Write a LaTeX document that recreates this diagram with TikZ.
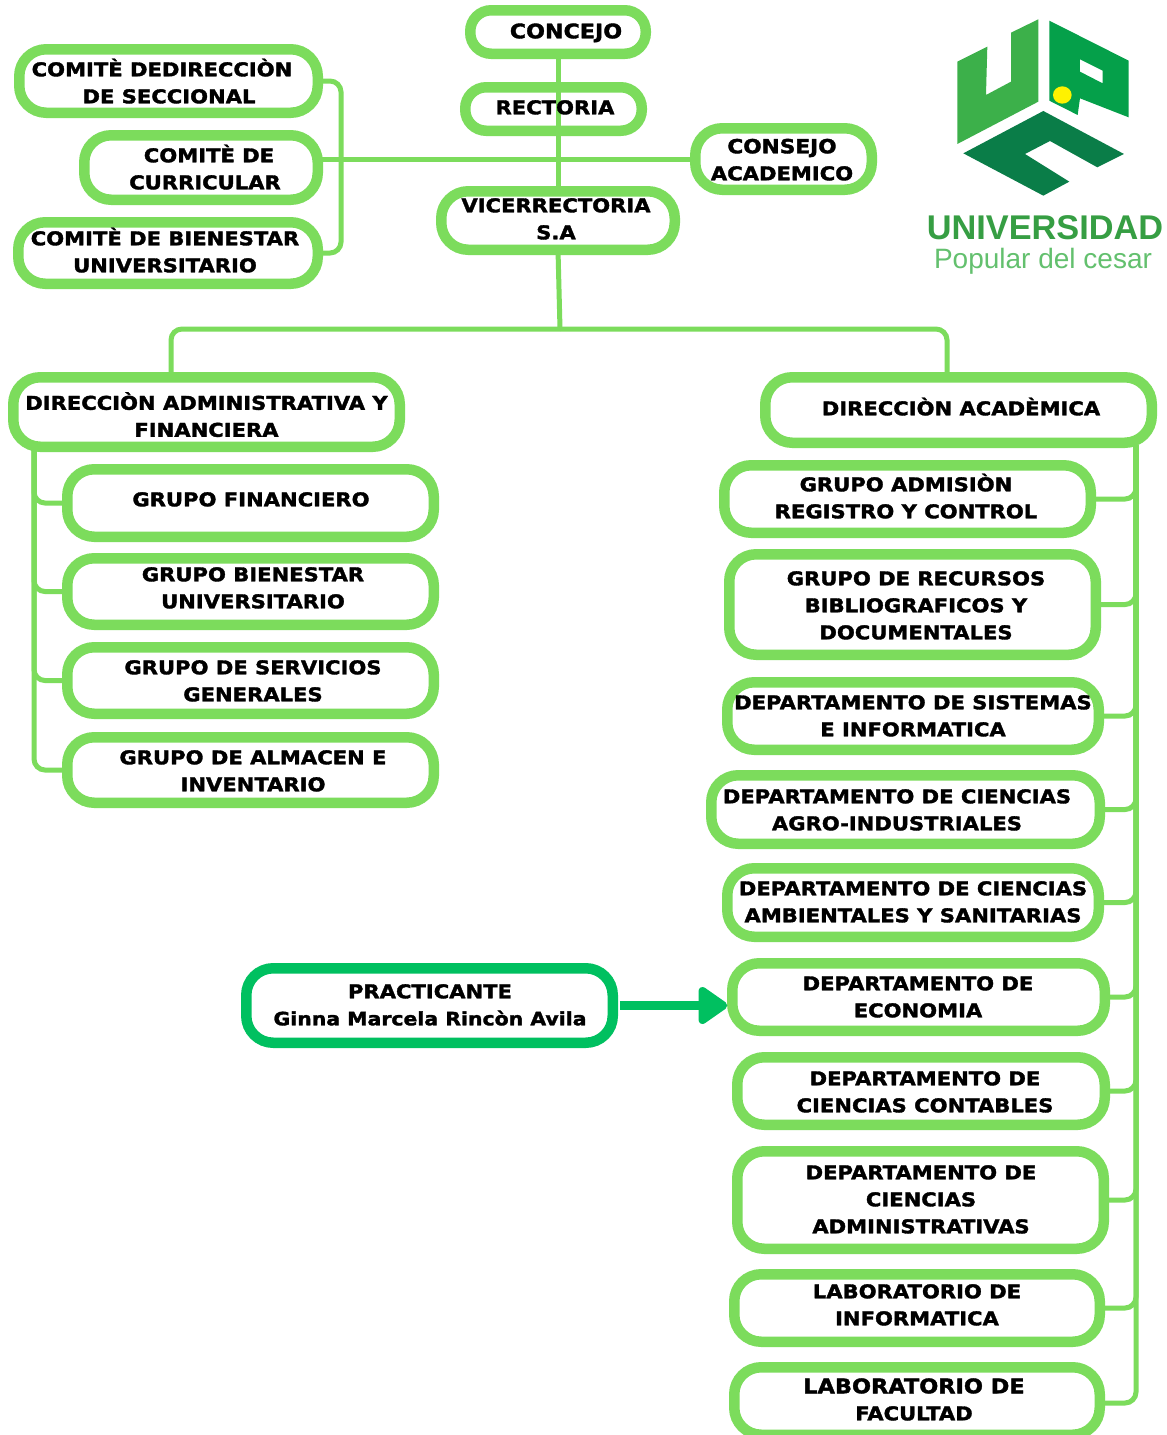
\documentclass[tikz,border=0pt]{standalone}
\usepackage{fontspec}
\setmainfont[BoldFeatures={FakeStretch=1.11,FakeBold=1.8}]{DejaVu Sans}
\newfontfamily\logofont{Liberation Sans}
\usetikzlibrary{arrows.meta}
\definecolor{lgreen}{HTML}{7CDC5C}
\definecolor{pgreen}{HTML}{00C060}
\definecolor{logoU}{HTML}{3CB04A}
\definecolor{logoP}{HTML}{05A04A}
\definecolor{logoC}{HTML}{0A7D48}
\tikzset{
  gbox/.style={draw=lgreen,line width=10.5pt,fill=white,rounded corners=27pt,inner sep=0pt,outer sep=0pt},
  sbox/.style={gbox,rounded corners=21pt},
  pbox/.style={gbox,draw=pgreen},
  conn/.style={draw=lgreen,line width=5pt},
  bendline/.style={conn,rounded corners=11pt},
  txt/.style={align=center,inner sep=0pt,font=\fontsize{19}{27}\selectfont\bfseries},
}
\newcommand\boxn[6][gbox]{\node[#1,minimum width={(#5-#3-10.5)*1pt},minimum height={(#6-#4-10.5)*1pt}] (#2) at ({(#3+#5)/2},{(#4+#6)/2}) {};}
\newcommand\lbl[4]{\node[txt] (#1) at ({#2},{#3+0.8}) {\rule{0pt}{19pt}#4\rule[-6pt]{0pt}{6pt}};}
\begin{document}
\begin{tikzpicture}[x=1pt,y=-1pt]
\useasboundingbox (0,0) rectangle (1167,1435);
\clip (0,0) rectangle (1167,1435);
\fill[white] (0,0) rectangle (1167,1435);
% boxes
\boxn[sbox]{concejo}{465}{5}{651}{59}
\boxn[sbox]{rectoria}{460}{82}{647}{136}
\boxn{vice}{436}{186}{680}{255}
\boxn{consejo}{690}{123}{877}{195}
\boxn{cdir}{14}{44}{323}{118}
\boxn{ccur}{79}{130}{323}{205}
\boxn{cbien}{13}{217}{323}{289}
\boxn{dadm}{8}{372}{405}{452}
\boxn{gfin}{62}{464}{439}{542}
\boxn{gbien}{62}{553}{439}{630}
\boxn{gserv}{62}{642}{439}{719}
\boxn{galm}{62}{732}{439}{808}
\boxn{dacad}{760}{372}{1157}{448}
\boxn{gadm}{719}{460}{1096}{538}
\boxn{grec}{724}{549}{1101}{660}
\boxn{dsis}{722}{677}{1104}{755}
\boxn{dagro}{706}{770}{1105}{849}
\boxn{damb}{722}{863}{1104}{942}
\boxn{decon}{727}{958}{1110}{1036}
\boxn{dcont}{732}{1052}{1110}{1130}
\boxn{dadmi}{732}{1146}{1109}{1254}
\boxn{linf}{729}{1269}{1105}{1347}
\boxn{lfac}{729}{1362}{1105}{1440}
\boxn[pbox]{prac}{241}{963}{618}{1048}
% connector junctions
\coordinate (hub) at (560,329);
\coordinate (lspine) at (34,445);
\coordinate (rspine) at (1136,445);
\coordinate (brk) at (341,159);
\draw[conn] (concejo.south -| vice.north) -- (rectoria.south -| vice.north) -- (vice.north);
\draw[conn] (ccur.east |- consejo.west) -- (consejo.west);
\draw[bendline] (cdir.east) -| (brk);
\draw[bendline] (cbien.east) -| (brk);
\draw[conn] (vice.south) -- (hub);
\draw[bendline] (hub) -| (171,372);
\draw[bendline] (hub) -| (947,372);
\foreach \n in {gfin,gbien,gserv,galm} {\draw[bendline] (\n.west) -| (lspine);}
\foreach \n in {gadm,grec,dsis,dagro,damb,decon,dcont,dadmi,linf} {\draw[bendline] (\n.east) -| (rspine);}
\draw[bendline] (lfac.east |- 0,1403) -| (rspine);
\lbl{tconcejo}{566}{31}{\fontsize{20}{27}\selectfont CONCEJO}
\lbl{trectoria}{555}{107}{RECTORIA}
\lbl{tvice}{556}{218.5}{VICERRECTORIA\\S.A}
\lbl{tconsejo}{782}{159.5}{\fontsize{19.5}{27}\selectfont CONSEJO\\ACADEMICO}
\lbl{tcdir}{162}{82.5}{COMITÈ DEDIRECCIÒN\\\hspace*{14pt}DE SECCIONAL}
\lbl{tccur}{205}{168.5}{\hspace*{8pt}COMITÈ DE\\CURRICULAR}
\lbl{tcbien}{165}{251.5}{COMITÈ DE BIENESTAR\\UNIVERSITARIO}
\lbl{tdadm}{206.5}{416}{DIRECCIÒN ADMINISTRATIVA Y\\FINANCIERA}
\lbl{tgfin}{251}{499}{GRUPO FINANCIERO}
\lbl{tgbien}{253}{587.5}{GRUPO BIENESTAR\\UNIVERSITARIO}
\lbl{tgserv}{253}{680.5}{GRUPO DE SERVICIOS\\GENERALES}
\lbl{tgalm}{253}{770.5}{GRUPO DE ALMACEN E\\INVENTARIO}
\lbl{tdacad}{961}{408}{DIRECCIÒN ACADÈMICA}
\lbl{tgadm}{906}{497.5}{GRUPO ADMISIÒN\\REGISTRO Y CONTROL}
\lbl{tgrec}{916}{605}{GRUPO DE RECURSOS\\BIBLIOGRAFICOS Y\\DOCUMENTALES}
\lbl{tdsis}{913}{715.5}{DEPARTAMENTO DE SISTEMAS\\E INFORMATICA}
\lbl{tdagro}{897}{809.5}{DEPARTAMENTO DE CIENCIAS\\AGRO-INDUSTRIALES}
\lbl{tdamb}{913}{901.5}{DEPARTAMENTO DE CIENCIAS\\AMBIENTALES Y SANITARIAS}
\lbl{tdecon}{918}{996.5}{DEPARTAMENTO DE\\ECONOMIA}
\lbl{tdcont}{925}{1091.5}{DEPARTAMENTO DE\\CIENCIAS CONTABLES}
\lbl{tdadmi}{921}{1199}{DEPARTAMENTO DE\\CIENCIAS\\ADMINISTRATIVAS}
\lbl{tlinf}{917}{1304.5}{LABORATORIO DE\\INFORMATICA}
\lbl{tlfac}{914}{1399.5}{\fontsize{20.2}{27.5}\selectfont LABORATORIO DE\\FACULTAD}
\lbl{tprac}{430}{1004.5}{PRACTICANTE\\{\fontsize{18.4}{27}\selectfont Ginna Marcela Rincòn Avila}}
\draw[draw=pgreen,line width=9pt,shorten <=7pt,shorten >=5pt,-{Triangle[length=32pt,width=42pt,round]}] (prac.east) -- (prac.east -| decon.west);
% logo
\begin{scope}[shift={(900,0)},x=0.3333pt,y=-0.3333pt]
\fill[logoU] (172,185) -- (262,140) -- (258,285) -- (333,245) -- (333,98) -- (415,58) -- (415,305) -- (172,432) -- cycle;
\fill[logoP,even odd rule] (448,62) -- (686,182) -- (686,352) -- (540,295) -- (533,345) -- (448,302) -- cycle (540,178) -- (608,212) -- (608,250) -- (540,215) -- cycle;
\fill[yellow] (487,285) circle [x radius=28,y radius=26];
\fill[logoC] (430,333) -- (672,462) -- (592,502) -- (450,423) -- (375,462) -- (508,545) -- (430,587) -- (190,460) -- cycle;
\end{scope}
\node[inner sep=0pt,text=logoU!90!black,font=\logofont\bfseries\fontsize{34.3}{36}\selectfont] (uni) at (1045,228) {UNIVERSIDAD};
\node[inner sep=0pt,text=logoU!80!white,font=\logofont\fontsize{28}{30}\selectfont] (pop) at (1043,261) {Popular del cesar};
\end{tikzpicture}
\end{document}
